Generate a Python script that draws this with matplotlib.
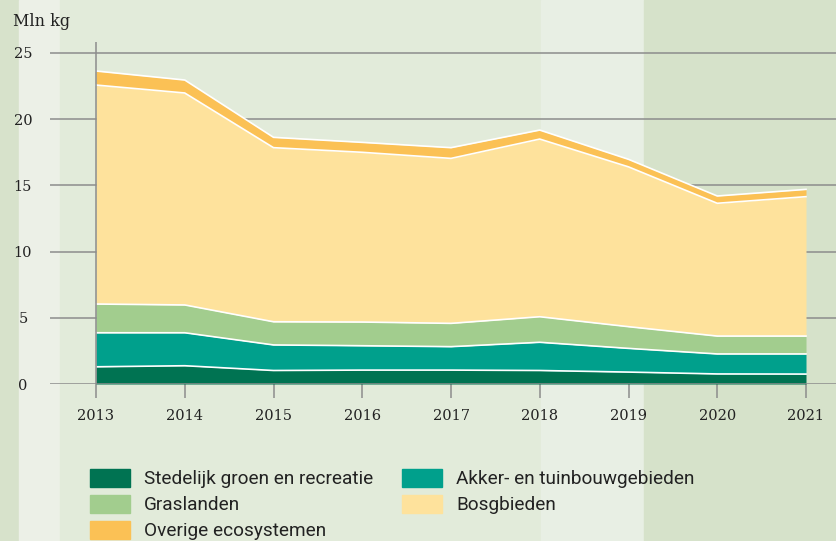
import matplotlib
matplotlib.use("Agg")
import matplotlib.pyplot as plt
from matplotlib.patches import Rectangle
import numpy as np

years = [2013, 2014, 2015, 2016, 2017, 2018, 2019, 2020, 2021]
stedelijk = [1.30, 1.38, 1.02, 1.05, 1.05, 1.02, 0.90, 0.76, 0.75]
akker = [2.57, 2.49, 1.93, 1.84, 1.77, 2.13, 1.79, 1.51, 1.52]
gras = [2.17, 2.10, 1.75, 1.79, 1.76, 1.93, 1.64, 1.35, 1.35]
bos = [16.54, 16.01, 13.15, 12.82, 12.46, 13.42, 12.07, 10.03, 10.53]
overige = [1.06, 0.98, 0.78, 0.75, 0.81, 0.68, 0.57, 0.55, 0.55]

names = ["Stedelijk groen en recreatie", "Akker- en tuinbouwgebieden",
         "Graslanden", "Bosgbieden", "Overige ecosystemen"]
colors = ["#007352", "#00a08c", "#a2cd8e", "#fee29c", "#fbc155"]
yticks = [0, 5, 10, 15, 20, 25]

W, H = 836, 541
fig = plt.figure(figsize=(W / 100, H / 100), dpi=100)

# background bands
bands = [(0, 19, "#d7e2cb"), (19, 60, "#ecf0e7"), (60, 541, "#e2ebda"),
         (541, 644, "#e8efe4"), (644, 836, "#d6e2ca")]
for x0, x1, c in bands:
    fig.patches.append(Rectangle((x0 / W, 0), (x1 - x0) / W, 1,
                                 transform=fig.transFigure, color=c, zorder=-10))

ax = fig.add_axes([50 / W, 1 - 384 / H, (836 - 50) / W, (384 - 42) / H])
ax.set_facecolor("none")
ax.set_xlim(2013 - 46 / 88.75, 2021 + 30 / 88.75)
ax.set_ylim(0, 25 + 11 / 13.24)

series = [stedelijk, akker, gras, bos, overige]
x = np.array(years)
base = np.zeros(len(years))
for vals, c in zip(series, colors):
    top = base + np.array(vals)
    ax.fill_between(x, base, top, color=c, linewidth=0, zorder=2)
    base = top
# white separation lines
base = np.zeros(len(years))
for vals in series:
    base = base + np.array(vals)
    ax.plot(x, base, color="white", lw=1.2, zorder=3, solid_joinstyle="round")

grid_c = "#8c8c8c"
for yv in yticks:
    ax.axhline(yv, color=grid_c, lw=1.1, zorder=1 if yv > 0 else 4)
ax.axvline(2013, color=grid_c, lw=1.1, zorder=5)

for s in ax.spines.values():
    s.set_visible(False)

ax.set_xticks(years)
ax.set_xticklabels([str(y) for y in years], family="DejaVu Serif", fontsize=10.5,
                   color="#222222")
ax.tick_params(axis="x", length=10, width=1.1, color=grid_c, pad=8)
ax.set_yticks(yticks)
ax.set_yticklabels([str(v) for v in yticks], family="DejaVu Serif", fontsize=10.5,
                   color="#222222")
ax.tick_params(axis="y", length=0, pad=19.5)
for lab in ax.get_yticklabels():
    lab.set_horizontalalignment("center")

fig.text(13 / W, 1 - 21 / H, "Mln kg", family="DejaVu Serif", fontsize=11.5,
         color="#222222", va="center", ha="left")

# legend
order = [0, 2, 4, 1, 3]
positions = [(90, 478), (90, 504), (90, 530), (402, 478), (402, 504)]
for idx, (px, py) in zip(order, positions):
    fig.patches.append(Rectangle((px / W, 1 - (py + 9) / H), 40 / W, 18 / H,
                                 transform=fig.transFigure, color=colors[idx]))
    fig.text((px + 54) / W, 1 - (py + 6.5) / H, names[idx], family="Roboto",
             fontsize=13.7, color="#222222", va="baseline", ha="left")

fig.savefig("out.png", dpi=100)
